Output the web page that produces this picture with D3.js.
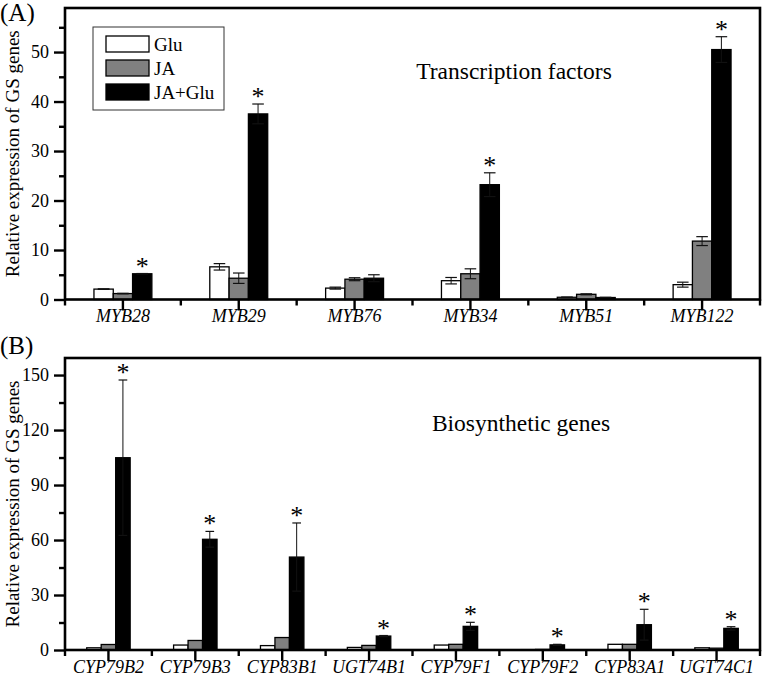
<!DOCTYPE html>
<html>
<head>
<meta charset="utf-8">
<script src="https://cdn.jsdelivr.net/npm/d3@7"></script>
<style>
  html, body { margin: 0; padding: 0; background: #fff; }
  svg { display: block; }
  svg text { font-family: "Liberation Serif", "Times New Roman", serif; fill: #000; }
</style>
</head>
<body>
<script>
// ---------- data ----------
const seriesNames = ["Glu", "JA", "JA+Glu"];

const tfGenes = ["MYB28", "MYB29", "MYB76", "MYB34", "MYB51", "MYB122"];
const tfGlu = [2.1, 6.6, 2.3, 3.8, 0.45, 3.0];
const tfGluErr = [0.05, 0.65, 0.2, 0.65, 0.05, 0.5];
const tfJA = [1.2, 4.3, 4.1, 5.2, 1.05, 11.8];
const tfJAErr = [0.05, 1.05, 0.3, 1.0, 0.1, 0.9];
const tfJAGlu = [5.2, 37.5, 4.3, 23.2, 0.4, 50.5];
const tfJAGluErr = [0.05, 2.0, 0.7, 2.4, 0.05, 2.6];
const tfSig = [true, true, false, true, false, true];
const tfTicks = [0, 10, 20, 30, 40, 50];

const bioGenes = ["CYP79B2", "CYP79B3", "CYP83B1", "UGT74B1", "CYP79F1", "CYP79F2", "CYP83A1", "UGT74C1"];
const bioGlu = [1.2, 2.7, 2.4, 1.4, 2.7, 0.2, 3.1, 1.2];
const bioGluErr = [0, 0, 0, 0, 0, 0, 0, 0];
const bioJA = [3.0, 5.2, 6.8, 2.5, 3.1, 0.3, 3.1, 1.0];
const bioJAErr = [0, 0, 0, 0, 0, 0, 0, 0];
const bioJAGlu = [104.9, 60.4, 50.7, 7.6, 12.9, 2.8, 13.8, 11.8];
const bioJAGluErr = [42.4, 4.3, 18.6, 0.3, 2.2, 0.3, 8.4, 0.9];
const bioSig = [true, true, true, true, true, true, true, true];
const bioTicks = [0, 30, 60, 90, 120, 150];

const fills = ["#ffffff", "#808080", "#000000"];

// ---------- drawing ----------
const W = 763, H = 676;
const FONT = '"Liberation Serif", "Times New Roman", serif';
const svg = d3.select("body").append("svg").attr("width", W).attr("height", H)
  .attr("font-family", FONT);
svg.append("rect").attr("width", W).attr("height", H).attr("fill", "#fff");

function panel(opt) {
  const g = svg.append("g");
  const x = d3.scaleBand().domain(opt.genes).range([opt.left, opt.right]).padding(0);
  const y = d3.scaleLinear().domain([0, opt.ymax]).range([opt.bottom, opt.top]);
  const inner = d3.scaleBand().domain(seriesNames).range([0, x.bandwidth() * 0.5]).padding(0);
  const offset = x.bandwidth() * 0.25;

  const series = [
    { name: "Glu", v: opt.glu, e: opt.gluErr },
    { name: "JA", v: opt.ja, e: opt.jaErr },
    { name: "JA+Glu", v: opt.jaglu, e: opt.jagluErr }
  ];

  // bars
  series.forEach((s, si) => {
    g.selectAll(null).data(opt.genes).enter().append("rect")
      .attr("x", (d) => x(d) + offset + inner(s.name))
      .attr("y", (d, i) => y(s.v[i]))
      .attr("width", inner.bandwidth())
      .attr("height", (d, i) => y(0) - y(s.v[i]))
      .attr("fill", fills[si])
      .attr("stroke", "#000")
      .attr("stroke-width", 1.3);
  });

  // error bars
  const cap = inner.bandwidth() * 0.3;
  series.forEach((s) => {
    opt.genes.forEach((d, i) => {
      const e = s.e[i];
      if (!e) return;
      const cx = x(d) + offset + inner(s.name) + inner.bandwidth() / 2;
      const y1 = y(s.v[i] + e), y0 = y(Math.max(0, s.v[i] - e));
      g.append("line").attr("x1", cx).attr("x2", cx).attr("y1", y1).attr("y2", y0)
        .attr("stroke", "#111").attr("stroke-width", 1);
      [y1, y0].forEach((yy) => g.append("line").attr("x1", cx - cap).attr("x2", cx + cap)
        .attr("y1", yy).attr("y2", yy).attr("stroke", "#111").attr("stroke-width", 1.2));
    });
  });

  // significance stars
  opt.genes.forEach((d, i) => {
    if (!opt.sig[i]) return;
    const cx = x(d) + offset + inner("JA+Glu") + inner.bandwidth() / 2;
    const top = y(opt.jaglu[i] + opt.jagluErr[i]);
    g.append("text").attr("x", cx).attr("y", top + 1)
      .attr("text-anchor", "middle").attr("font-size", 26).text("*");
  });

  // frame
  g.append("rect").attr("x", opt.left).attr("y", opt.top)
    .attr("width", opt.right - opt.left).attr("height", opt.bottom - opt.top)
    .attr("fill", "none").attr("stroke", "#000").attr("stroke-width", 2.6);

  // y axis
  const step = opt.ticks[1] - opt.ticks[0];
  const minor = d3.range(step / 2, opt.ymax, step);
  const yAxis = d3.axisLeft(y).tickValues(opt.ticks).tickSize(11).tickPadding(5).tickFormat(d3.format("d"));
  const ya = g.append("g").attr("transform", `translate(${opt.left},0)`).call(yAxis);
  ya.attr("font-family", FONT);
  ya.select(".domain").remove();
  ya.selectAll(".tick line").attr("stroke", "#000").attr("stroke-width", 2.4);
  ya.selectAll(".tick text").attr("font-size", 18).attr("fill", "#000");
  const yMinor = d3.axisLeft(y).tickValues(minor).tickSize(6).tickFormat("");
  const ym = g.append("g").attr("transform", `translate(${opt.left},0)`).call(yMinor);
  ym.select(".domain").remove();
  ym.selectAll(".tick line").attr("stroke", "#000").attr("stroke-width", 2.4);

  // x axis
  const xAxis = d3.axisBottom(x).tickSize(11).tickPadding(4);
  const xa = g.append("g").attr("transform", `translate(0,${opt.bottom})`).call(xAxis);
  xa.attr("font-family", FONT);
  xa.select(".domain").remove();
  xa.selectAll(".tick line").attr("stroke", "#000").attr("stroke-width", 2.4);
  xa.selectAll(".tick text").attr("font-size", 18).attr("font-style", "italic")
    .attr("fill", "#000").attr("y", 22.5).attr("dy", 0);
  const edges = opt.genes.map((d) => x(d)).concat([opt.right]);
  const xm = g.append("g").attr("transform", `translate(0,${opt.bottom})`);
  xm.selectAll("line").data(edges).enter().append("line")
    .attr("x1", (d) => d).attr("x2", (d) => d).attr("y1", 0).attr("y2", 6)
    .attr("stroke", "#000").attr("stroke-width", 2.4);

  // y title
  g.append("text")
    .attr("transform", `translate(19,${(opt.top + opt.bottom) / 2}) rotate(-90)`)
    .attr("text-anchor", "middle").attr("font-size", 19)
    .text("Relative expression of GS genes");

  // panel label
  g.append("text").attr("x", 0).attr("y", opt.labelY).attr("font-size", 25).text(opt.label);

  // title in plot
  g.append("text").attr("x", opt.titleX).attr("y", opt.titleY)
    .attr("text-anchor", "middle").attr("font-size", 23.5).text(opt.title);

  return { x, y };
}

panel({
  genes: tfGenes, glu: tfGlu, gluErr: tfGluErr, ja: tfJA, jaErr: tfJAErr,
  jaglu: tfJAGlu, jagluErr: tfJAGluErr, sig: tfSig, ticks: tfTicks,
  ymax: 58.9, left: 65, right: 760, top: 8, bottom: 299.5,
  label: "(A)", labelY: 21, title: "Transcription factors", titleX: 514, titleY: 79
});

panel({
  genes: bioGenes, glu: bioGlu, gluErr: bioGluErr, ja: bioJA, jaErr: bioJAErr,
  jaglu: bioJAGlu, jagluErr: bioJAGluErr, sig: bioSig, ticks: bioTicks,
  ymax: 159.3, left: 65, right: 760, top: 358, bottom: 650,
  label: "(B)", labelY: 354, title: "Biosynthetic genes", titleX: 521, titleY: 431
});

// legend
const legend = svg.append("g");
legend.append("rect").attr("x", 93).attr("y", 27).attr("width", 131).attr("height", 83)
  .attr("fill", "#fff").attr("stroke", "#333").attr("stroke-width", 1);
const legY = d3.scalePoint().domain(seriesNames).range([44, 92]);
seriesNames.forEach((n, i) => {
  legend.append("rect").attr("x", 106).attr("y", legY(n) - 8).attr("width", 43).attr("height", 16)
    .attr("fill", fills[i]).attr("stroke", "#000").attr("stroke-width", 1.3);
  legend.append("text").attr("x", 154).attr("y", legY(n) + 6.5).attr("font-size", 19).text(n);
});
</script>
</body>
</html>
